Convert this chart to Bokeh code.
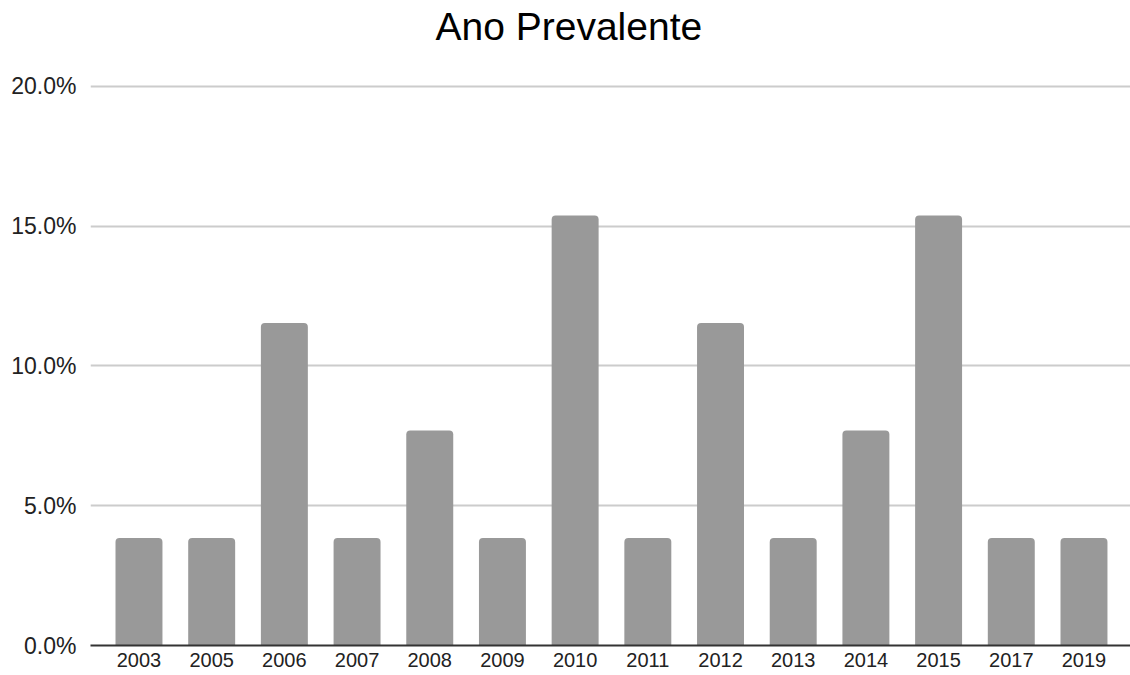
from bokeh.plotting import figure
from bokeh.models import Range1d, FixedTicker, NumeralTickFormatter, Title, ColumnDataSource
from bokeh.embed import file_html
from bokeh.resources import INLINE

years = ["2003", "2005", "2006", "2007", "2008", "2009", "2010",
         "2011", "2012", "2013", "2014", "2015", "2017", "2019"]
shares = [0.0385, 0.0385, 0.1154, 0.0385, 0.0769, 0.0385, 0.1538,
          0.0385, 0.1154, 0.0385, 0.0769, 0.1538, 0.0385, 0.0385]
y_ticks = [0.0, 0.05, 0.10, 0.15, 0.20]

idx = list(range(len(years)))
src = ColumnDataSource(dict(x=idx, top=shares, year=years))

FONT = "Liberation Sans"

p = figure(width=1130, height=675, output_backend="svg", toolbar_location=None,
           x_range=Range1d(-0.667, 13.64), y_range=Range1d(0, 0.2007),
           min_border_left=90, min_border_right=0, min_border_top=84,
           min_border_bottom=30)
p.outline_line_color = None
p.background_fill_color = "white"
p.border_fill_color = "white"

# spacer nearest the frame, then the real title above it
spacer = Title(text=" ", text_font=FONT, text_font_size="10px", standoff=22)
p.add_layout(spacer, "above")
t = Title(text="Ano Prevalente", align="left", offset=345,
          text_font=FONT, text_font_size="39px", text_font_style="normal",
          text_color="#000000", vertical_align="top", standoff=0)
p.add_layout(t, "above")

p.vbar(x="x", top="top", width=0.646, bottom=0, source=src,
       fill_color="#999999", line_color=None, border_radius=(4, 4, 0, 0))

# x axis
xa = p.xaxis[0]
xa.ticker = FixedTicker(ticks=idx)
xa.major_label_overrides = {i: y for i, y in zip(idx, years)}
xa.major_tick_line_color = None
xa.minor_tick_line_color = None
xa.major_tick_out = 0
xa.major_tick_in = 0
xa.axis_line_color = "#333333"
xa.axis_line_width = 2
xa.major_label_standoff = 7
xa.major_label_text_font = FONT
xa.major_label_text_font_size = "20px"
xa.major_label_text_color = "#222222"

# y axis
ya = p.yaxis[0]
ya.ticker = FixedTicker(ticks=y_ticks)
ya.formatter = NumeralTickFormatter(format="0.0%")
ya.axis_line_color = None
ya.major_tick_line_color = None
ya.minor_tick_line_color = None
ya.major_tick_out = 0
ya.major_tick_in = 0
ya.major_label_standoff = 14
ya.major_label_text_font = FONT
ya.major_label_text_font_size = "23px"
ya.major_label_text_color = "#222222"

p.xgrid.grid_line_color = None
p.ygrid.ticker = FixedTicker(ticks=y_ticks[1:])
p.ygrid.grid_line_color = "#cccccc"
p.ygrid.grid_line_width = 2

open("out.html", "w").write(file_html(p, INLINE))
